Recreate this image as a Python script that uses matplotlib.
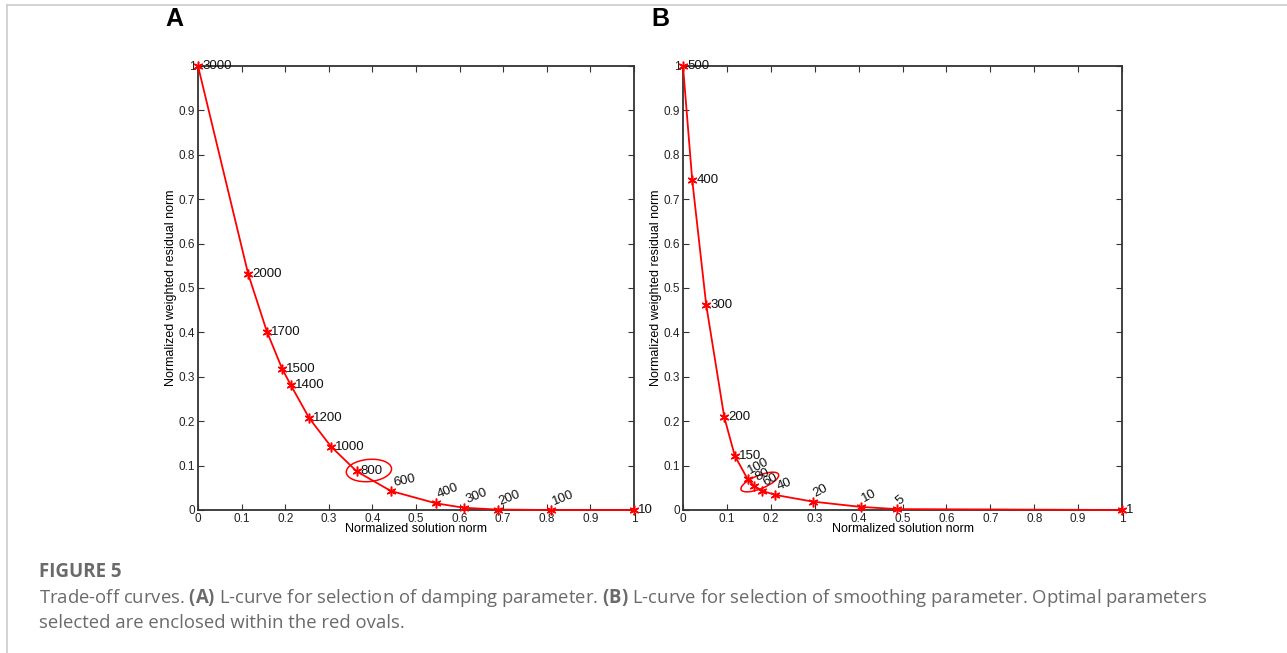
import matplotlib.pyplot as plt
from matplotlib.patches import Ellipse
from matplotlib.lines import Line2D

# panel A: damping parameter L-curve
damp_x = [0.0, 0.115, 0.158, 0.193, 0.213, 0.255, 0.305, 0.364, 0.442, 0.546, 0.610, 0.687, 0.809, 1.0]
damp_y = [1.0, 0.532, 0.402, 0.318, 0.281, 0.207, 0.143, 0.087, 0.043, 0.015, 0.005, 0.001, 0.0, 0.0]
damp_lab = ["3000", "2000", "1700", "1500", "1400", "1200", "1000", "800", "600", "400", "300", "200", "100", "10"]
damp_rot = [0, 0, 0, 0, 0, 0, 0, 0, 12, 22, 22, 22, 22, 0]

# panel B: smoothing parameter L-curve
smooth_x = [0.0, 0.021, 0.053, 0.094, 0.118, 0.147, 0.162, 0.181, 0.210, 0.295, 0.405, 0.487, 1.0]
smooth_y = [1.0, 0.743, 0.461, 0.209, 0.122, 0.070, 0.054, 0.043, 0.034, 0.019, 0.007, 0.002, 0.0]
smooth_lab = ["500", "400", "300", "200", "150", "100", "80", "60", "40", "20", "10", "5", "1"]
smooth_rot = [0, 0, 0, 0, 0, 28, 28, 28, 22, 28, 28, 40, 0]

ticks = [0, 0.1, 0.2, 0.3, 0.4, 0.5, 0.6, 0.7, 0.8, 0.9, 1]
tick_txt = ["0", "0.1", "0.2", "0.3", "0.4", "0.5", "0.6", "0.7", "0.8", "0.9", "1"]

plt.rcParams["font.family"] = ["Liberation Sans", "DejaVu Sans"]
plt.rcParams["mathtext.fontset"] = "custom"
plt.rcParams["mathtext.bf"] = "Open Sans:bold"
plt.rcParams["mathtext.rm"] = "Open Sans"

fig = plt.figure(figsize=(12.87, 6.53), dpi=100)

# page frame lines (top and left)
fig.add_artist(Line2D([7 / 1287, 1], [1 - 5 / 653, 1 - 5 / 653], color="#cccccc", lw=1.2))
fig.add_artist(Line2D([7 / 1287, 7 / 1287], [0, 1 - 5 / 653], color="#cccccc", lw=1.2))

axA = fig.add_axes([198 / 1287, 143 / 653, 436 / 1287, 444 / 653])
axB = fig.add_axes([683 / 1287, 143 / 653, 439 / 1287, 444 / 653])


def style(ax):
    ax.set_xlim(0, 1)
    ax.set_ylim(0, 1)
    ax.set_xticks(ticks)
    ax.set_xticklabels(tick_txt)
    ax.set_yticks(ticks)
    ax.set_yticklabels(tick_txt)
    ax.tick_params(direction="in", top=True, right=True, length=4, width=0.8,
                   labelsize=8.5, pad=2, colors="#333333", labelcolor="#222222")
    for s in ax.spines.values():
        s.set_linewidth(1.3)
        s.set_color("#333333")
    ax.set_xlabel("Normalized solution norm", fontsize=9, labelpad=-1)
    ax.set_ylabel("Normalized weighted residual norm", fontsize=9, labelpad=1)


def curve(ax, xs, ys, labs, rots):
    ax.plot(xs, ys, color="red", lw=1.3, marker=(6, 2, 0), ms=7, mew=1.1, clip_on=False, zorder=3)
    for x, y, t, r in zip(xs, ys, labs, rots):
        ax.annotate(t, (x, y), xytext=(3, 0 if r == 0 else 1.5), textcoords="offset points",
                    fontsize=9.5, rotation=r, rotation_mode="anchor",
                    ha="left", va="center" if r == 0 else "bottom", color="#111111",
                    annotation_clip=False)


style(axA)
curve(axA, damp_x, damp_y, damp_lab, damp_rot)
axA.add_patch(Ellipse((0.392, 0.089), 0.104, 0.050, angle=5, fill=False, ec="red", lw=1.1))

style(axB)
curve(axB, smooth_x, smooth_y, smooth_lab, smooth_rot)
axB.add_patch(Ellipse((0.175, 0.063), 0.092, 0.030, angle=22, fill=False, ec="red", lw=1.1))

fig.text(165 / 1287, 1 - 19 / 653, "A", fontsize=18, fontweight="bold", va="center")
fig.text(651 / 1287, 1 - 19 / 653, "B", fontsize=18, fontweight="bold", va="center")

cap_font = ["Open Sans", "DejaVu Sans"]
fig.text(39 / 1287, 1 - 577 / 653, "FIGURE 5", fontsize=13.5, fontweight="bold",
         color="#6a6a6a", family=cap_font, va="baseline")
fig.text(39 / 1287, 1 - 603 / 653,
         r"Trade-off curves. $\mathbf{(A)}$ L-curve for selection of damping parameter. "
         r"$\mathbf{(B)}$ L-curve for selection of smoothing parameter. Optimal parameters",
         fontsize=13.35, color="#6a6a6a", family=cap_font, va="baseline")
fig.text(39 / 1287, 1 - 628 / 653, "selected are enclosed within the red ovals.",
         fontsize=13.35, color="#6a6a6a", family=cap_font, va="baseline")

fig.savefig("out.png", dpi=100)
